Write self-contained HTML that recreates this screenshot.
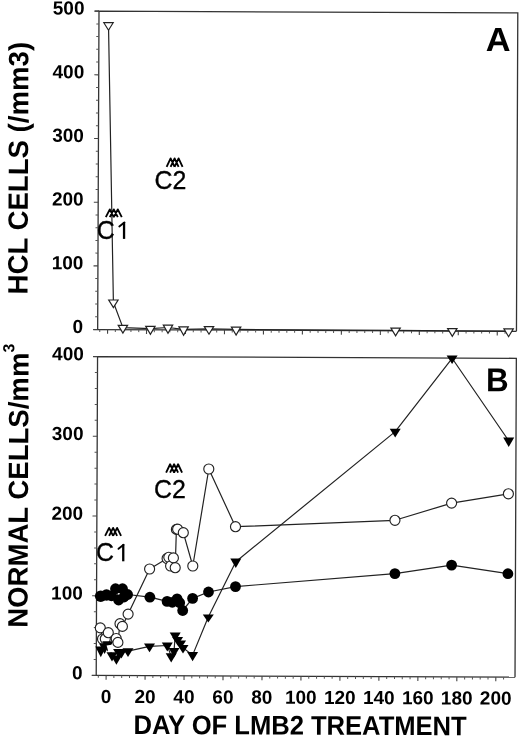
<!DOCTYPE html>
<html><head><meta charset="utf-8"><style>
html,body{margin:0;padding:0;background:#fff;}
svg{display:block;filter:grayscale(1) blur(0.35px);}
text{font-family:"Liberation Sans", sans-serif;fill:#000;}
</style></head><body>
<svg width="520" height="738" viewBox="0 0 520 738">
<rect width="520" height="738" fill="#fff"/>
<g transform="rotate(0.24 300.0 345.0)">
<path d="M97.6,330.4 L97.6,12 L516.4,12 L516.4,330.4" fill="none" stroke="#333" stroke-width="1.3" stroke-linejoin="miter"/>
<line x1="93.2" y1="330.4" x2="516.4" y2="330.4" stroke="#333" stroke-width="1.3"/>
<line x1="93.2" y1="12" x2="97.6" y2="12" stroke="#333" stroke-width="1.3"/>
<path d="M97.6,676.3 L97.6,357.4 L516.4,357.4 L516.4,676.3" fill="none" stroke="#333" stroke-width="1.3" stroke-linejoin="miter"/>
<line x1="93.2" y1="676.3" x2="516.4" y2="676.3" stroke="#333" stroke-width="1.3"/>
<line x1="93.2" y1="357.4" x2="97.6" y2="357.4" stroke="#333" stroke-width="1.3"/>
<line x1="93.2" y1="330.4" x2="97.6" y2="330.4" stroke="#444" stroke-width="1.1"/>
<line x1="95" y1="317.66" x2="97.6" y2="317.66" stroke="#555" stroke-width="1.0"/>
<line x1="95" y1="304.93" x2="97.6" y2="304.93" stroke="#555" stroke-width="1.0"/>
<line x1="95" y1="292.19" x2="97.6" y2="292.19" stroke="#555" stroke-width="1.0"/>
<line x1="95" y1="279.46" x2="97.6" y2="279.46" stroke="#555" stroke-width="1.0"/>
<line x1="93.2" y1="266.72" x2="97.6" y2="266.72" stroke="#444" stroke-width="1.1"/>
<line x1="95" y1="253.98" x2="97.6" y2="253.98" stroke="#555" stroke-width="1.0"/>
<line x1="95" y1="241.25" x2="97.6" y2="241.25" stroke="#555" stroke-width="1.0"/>
<line x1="95" y1="228.51" x2="97.6" y2="228.51" stroke="#555" stroke-width="1.0"/>
<line x1="95" y1="215.78" x2="97.6" y2="215.78" stroke="#555" stroke-width="1.0"/>
<line x1="93.2" y1="203.04" x2="97.6" y2="203.04" stroke="#444" stroke-width="1.1"/>
<line x1="95" y1="190.3" x2="97.6" y2="190.3" stroke="#555" stroke-width="1.0"/>
<line x1="95" y1="177.57" x2="97.6" y2="177.57" stroke="#555" stroke-width="1.0"/>
<line x1="95" y1="164.83" x2="97.6" y2="164.83" stroke="#555" stroke-width="1.0"/>
<line x1="95" y1="152.1" x2="97.6" y2="152.1" stroke="#555" stroke-width="1.0"/>
<line x1="93.2" y1="139.36" x2="97.6" y2="139.36" stroke="#444" stroke-width="1.1"/>
<line x1="95" y1="126.62" x2="97.6" y2="126.62" stroke="#555" stroke-width="1.0"/>
<line x1="95" y1="113.89" x2="97.6" y2="113.89" stroke="#555" stroke-width="1.0"/>
<line x1="95" y1="101.15" x2="97.6" y2="101.15" stroke="#555" stroke-width="1.0"/>
<line x1="95" y1="88.42" x2="97.6" y2="88.42" stroke="#555" stroke-width="1.0"/>
<line x1="93.2" y1="75.68" x2="97.6" y2="75.68" stroke="#444" stroke-width="1.1"/>
<line x1="95" y1="62.94" x2="97.6" y2="62.94" stroke="#555" stroke-width="1.0"/>
<line x1="95" y1="50.21" x2="97.6" y2="50.21" stroke="#555" stroke-width="1.0"/>
<line x1="95" y1="37.47" x2="97.6" y2="37.47" stroke="#555" stroke-width="1.0"/>
<line x1="95" y1="24.74" x2="97.6" y2="24.74" stroke="#555" stroke-width="1.0"/>
<line x1="93.2" y1="12" x2="97.6" y2="12" stroke="#444" stroke-width="1.1"/>
<line x1="93.2" y1="676.3" x2="97.6" y2="676.3" stroke="#444" stroke-width="1.1"/>
<line x1="95" y1="660.35" x2="97.6" y2="660.35" stroke="#555" stroke-width="1.0"/>
<line x1="95" y1="644.41" x2="97.6" y2="644.41" stroke="#555" stroke-width="1.0"/>
<line x1="95" y1="628.46" x2="97.6" y2="628.46" stroke="#555" stroke-width="1.0"/>
<line x1="95" y1="612.52" x2="97.6" y2="612.52" stroke="#555" stroke-width="1.0"/>
<line x1="93.2" y1="596.57" x2="97.6" y2="596.57" stroke="#444" stroke-width="1.1"/>
<line x1="95" y1="580.63" x2="97.6" y2="580.63" stroke="#555" stroke-width="1.0"/>
<line x1="95" y1="564.68" x2="97.6" y2="564.68" stroke="#555" stroke-width="1.0"/>
<line x1="95" y1="548.74" x2="97.6" y2="548.74" stroke="#555" stroke-width="1.0"/>
<line x1="95" y1="532.79" x2="97.6" y2="532.79" stroke="#555" stroke-width="1.0"/>
<line x1="93.2" y1="516.85" x2="97.6" y2="516.85" stroke="#444" stroke-width="1.1"/>
<line x1="95" y1="500.9" x2="97.6" y2="500.9" stroke="#555" stroke-width="1.0"/>
<line x1="95" y1="484.96" x2="97.6" y2="484.96" stroke="#555" stroke-width="1.0"/>
<line x1="95" y1="469.01" x2="97.6" y2="469.01" stroke="#555" stroke-width="1.0"/>
<line x1="95" y1="453.07" x2="97.6" y2="453.07" stroke="#555" stroke-width="1.0"/>
<line x1="93.2" y1="437.12" x2="97.6" y2="437.12" stroke="#444" stroke-width="1.1"/>
<line x1="95" y1="421.18" x2="97.6" y2="421.18" stroke="#555" stroke-width="1.0"/>
<line x1="95" y1="405.24" x2="97.6" y2="405.24" stroke="#555" stroke-width="1.0"/>
<line x1="95" y1="389.29" x2="97.6" y2="389.29" stroke="#555" stroke-width="1.0"/>
<line x1="95" y1="373.34" x2="97.6" y2="373.34" stroke="#555" stroke-width="1.0"/>
<line x1="93.2" y1="357.4" x2="97.6" y2="357.4" stroke="#444" stroke-width="1.1"/>
<line x1="99.71" y1="330.4" x2="99.71" y2="332.8" stroke="#555" stroke-width="1.0"/>
<line x1="107.5" y1="330.4" x2="107.5" y2="334.6" stroke="#444" stroke-width="1.1"/>
<line x1="115.29" y1="330.4" x2="115.29" y2="332.8" stroke="#555" stroke-width="1.0"/>
<line x1="123.09" y1="330.4" x2="123.09" y2="332.8" stroke="#555" stroke-width="1.0"/>
<line x1="130.88" y1="330.4" x2="130.88" y2="332.8" stroke="#555" stroke-width="1.0"/>
<line x1="138.68" y1="330.4" x2="138.68" y2="332.8" stroke="#555" stroke-width="1.0"/>
<line x1="146.47" y1="330.4" x2="146.47" y2="334.6" stroke="#444" stroke-width="1.1"/>
<line x1="154.26" y1="330.4" x2="154.26" y2="332.8" stroke="#555" stroke-width="1.0"/>
<line x1="162.06" y1="330.4" x2="162.06" y2="332.8" stroke="#555" stroke-width="1.0"/>
<line x1="169.85" y1="330.4" x2="169.85" y2="332.8" stroke="#555" stroke-width="1.0"/>
<line x1="177.65" y1="330.4" x2="177.65" y2="332.8" stroke="#555" stroke-width="1.0"/>
<line x1="185.44" y1="330.4" x2="185.44" y2="334.6" stroke="#444" stroke-width="1.1"/>
<line x1="193.23" y1="330.4" x2="193.23" y2="332.8" stroke="#555" stroke-width="1.0"/>
<line x1="201.03" y1="330.4" x2="201.03" y2="332.8" stroke="#555" stroke-width="1.0"/>
<line x1="208.82" y1="330.4" x2="208.82" y2="332.8" stroke="#555" stroke-width="1.0"/>
<line x1="216.62" y1="330.4" x2="216.62" y2="332.8" stroke="#555" stroke-width="1.0"/>
<line x1="224.41" y1="330.4" x2="224.41" y2="334.6" stroke="#444" stroke-width="1.1"/>
<line x1="232.2" y1="330.4" x2="232.2" y2="332.8" stroke="#555" stroke-width="1.0"/>
<line x1="240" y1="330.4" x2="240" y2="332.8" stroke="#555" stroke-width="1.0"/>
<line x1="247.79" y1="330.4" x2="247.79" y2="332.8" stroke="#555" stroke-width="1.0"/>
<line x1="255.59" y1="330.4" x2="255.59" y2="332.8" stroke="#555" stroke-width="1.0"/>
<line x1="263.38" y1="330.4" x2="263.38" y2="334.6" stroke="#444" stroke-width="1.1"/>
<line x1="271.17" y1="330.4" x2="271.17" y2="332.8" stroke="#555" stroke-width="1.0"/>
<line x1="278.97" y1="330.4" x2="278.97" y2="332.8" stroke="#555" stroke-width="1.0"/>
<line x1="286.76" y1="330.4" x2="286.76" y2="332.8" stroke="#555" stroke-width="1.0"/>
<line x1="294.56" y1="330.4" x2="294.56" y2="332.8" stroke="#555" stroke-width="1.0"/>
<line x1="302.35" y1="330.4" x2="302.35" y2="334.6" stroke="#444" stroke-width="1.1"/>
<line x1="310.14" y1="330.4" x2="310.14" y2="332.8" stroke="#555" stroke-width="1.0"/>
<line x1="317.94" y1="330.4" x2="317.94" y2="332.8" stroke="#555" stroke-width="1.0"/>
<line x1="325.73" y1="330.4" x2="325.73" y2="332.8" stroke="#555" stroke-width="1.0"/>
<line x1="333.53" y1="330.4" x2="333.53" y2="332.8" stroke="#555" stroke-width="1.0"/>
<line x1="341.32" y1="330.4" x2="341.32" y2="334.6" stroke="#444" stroke-width="1.1"/>
<line x1="349.11" y1="330.4" x2="349.11" y2="332.8" stroke="#555" stroke-width="1.0"/>
<line x1="356.91" y1="330.4" x2="356.91" y2="332.8" stroke="#555" stroke-width="1.0"/>
<line x1="364.7" y1="330.4" x2="364.7" y2="332.8" stroke="#555" stroke-width="1.0"/>
<line x1="372.5" y1="330.4" x2="372.5" y2="332.8" stroke="#555" stroke-width="1.0"/>
<line x1="380.29" y1="330.4" x2="380.29" y2="334.6" stroke="#444" stroke-width="1.1"/>
<line x1="388.08" y1="330.4" x2="388.08" y2="332.8" stroke="#555" stroke-width="1.0"/>
<line x1="395.88" y1="330.4" x2="395.88" y2="332.8" stroke="#555" stroke-width="1.0"/>
<line x1="403.67" y1="330.4" x2="403.67" y2="332.8" stroke="#555" stroke-width="1.0"/>
<line x1="411.47" y1="330.4" x2="411.47" y2="332.8" stroke="#555" stroke-width="1.0"/>
<line x1="419.26" y1="330.4" x2="419.26" y2="334.6" stroke="#444" stroke-width="1.1"/>
<line x1="427.05" y1="330.4" x2="427.05" y2="332.8" stroke="#555" stroke-width="1.0"/>
<line x1="434.85" y1="330.4" x2="434.85" y2="332.8" stroke="#555" stroke-width="1.0"/>
<line x1="442.64" y1="330.4" x2="442.64" y2="332.8" stroke="#555" stroke-width="1.0"/>
<line x1="450.44" y1="330.4" x2="450.44" y2="332.8" stroke="#555" stroke-width="1.0"/>
<line x1="458.23" y1="330.4" x2="458.23" y2="334.6" stroke="#444" stroke-width="1.1"/>
<line x1="466.02" y1="330.4" x2="466.02" y2="332.8" stroke="#555" stroke-width="1.0"/>
<line x1="473.82" y1="330.4" x2="473.82" y2="332.8" stroke="#555" stroke-width="1.0"/>
<line x1="481.61" y1="330.4" x2="481.61" y2="332.8" stroke="#555" stroke-width="1.0"/>
<line x1="489.41" y1="330.4" x2="489.41" y2="332.8" stroke="#555" stroke-width="1.0"/>
<line x1="497.2" y1="330.4" x2="497.2" y2="334.6" stroke="#444" stroke-width="1.1"/>
<line x1="504.99" y1="330.4" x2="504.99" y2="332.8" stroke="#555" stroke-width="1.0"/>
<line x1="99.71" y1="676.3" x2="99.71" y2="678.7" stroke="#555" stroke-width="1.0"/>
<line x1="107.5" y1="676.3" x2="107.5" y2="680.5" stroke="#444" stroke-width="1.1"/>
<line x1="115.29" y1="676.3" x2="115.29" y2="678.7" stroke="#555" stroke-width="1.0"/>
<line x1="123.09" y1="676.3" x2="123.09" y2="678.7" stroke="#555" stroke-width="1.0"/>
<line x1="130.88" y1="676.3" x2="130.88" y2="678.7" stroke="#555" stroke-width="1.0"/>
<line x1="138.68" y1="676.3" x2="138.68" y2="678.7" stroke="#555" stroke-width="1.0"/>
<line x1="146.47" y1="676.3" x2="146.47" y2="680.5" stroke="#444" stroke-width="1.1"/>
<line x1="154.26" y1="676.3" x2="154.26" y2="678.7" stroke="#555" stroke-width="1.0"/>
<line x1="162.06" y1="676.3" x2="162.06" y2="678.7" stroke="#555" stroke-width="1.0"/>
<line x1="169.85" y1="676.3" x2="169.85" y2="678.7" stroke="#555" stroke-width="1.0"/>
<line x1="177.65" y1="676.3" x2="177.65" y2="678.7" stroke="#555" stroke-width="1.0"/>
<line x1="185.44" y1="676.3" x2="185.44" y2="680.5" stroke="#444" stroke-width="1.1"/>
<line x1="193.23" y1="676.3" x2="193.23" y2="678.7" stroke="#555" stroke-width="1.0"/>
<line x1="201.03" y1="676.3" x2="201.03" y2="678.7" stroke="#555" stroke-width="1.0"/>
<line x1="208.82" y1="676.3" x2="208.82" y2="678.7" stroke="#555" stroke-width="1.0"/>
<line x1="216.62" y1="676.3" x2="216.62" y2="678.7" stroke="#555" stroke-width="1.0"/>
<line x1="224.41" y1="676.3" x2="224.41" y2="680.5" stroke="#444" stroke-width="1.1"/>
<line x1="232.2" y1="676.3" x2="232.2" y2="678.7" stroke="#555" stroke-width="1.0"/>
<line x1="240" y1="676.3" x2="240" y2="678.7" stroke="#555" stroke-width="1.0"/>
<line x1="247.79" y1="676.3" x2="247.79" y2="678.7" stroke="#555" stroke-width="1.0"/>
<line x1="255.59" y1="676.3" x2="255.59" y2="678.7" stroke="#555" stroke-width="1.0"/>
<line x1="263.38" y1="676.3" x2="263.38" y2="680.5" stroke="#444" stroke-width="1.1"/>
<line x1="271.17" y1="676.3" x2="271.17" y2="678.7" stroke="#555" stroke-width="1.0"/>
<line x1="278.97" y1="676.3" x2="278.97" y2="678.7" stroke="#555" stroke-width="1.0"/>
<line x1="286.76" y1="676.3" x2="286.76" y2="678.7" stroke="#555" stroke-width="1.0"/>
<line x1="294.56" y1="676.3" x2="294.56" y2="678.7" stroke="#555" stroke-width="1.0"/>
<line x1="302.35" y1="676.3" x2="302.35" y2="680.5" stroke="#444" stroke-width="1.1"/>
<line x1="310.14" y1="676.3" x2="310.14" y2="678.7" stroke="#555" stroke-width="1.0"/>
<line x1="317.94" y1="676.3" x2="317.94" y2="678.7" stroke="#555" stroke-width="1.0"/>
<line x1="325.73" y1="676.3" x2="325.73" y2="678.7" stroke="#555" stroke-width="1.0"/>
<line x1="333.53" y1="676.3" x2="333.53" y2="678.7" stroke="#555" stroke-width="1.0"/>
<line x1="341.32" y1="676.3" x2="341.32" y2="680.5" stroke="#444" stroke-width="1.1"/>
<line x1="349.11" y1="676.3" x2="349.11" y2="678.7" stroke="#555" stroke-width="1.0"/>
<line x1="356.91" y1="676.3" x2="356.91" y2="678.7" stroke="#555" stroke-width="1.0"/>
<line x1="364.7" y1="676.3" x2="364.7" y2="678.7" stroke="#555" stroke-width="1.0"/>
<line x1="372.5" y1="676.3" x2="372.5" y2="678.7" stroke="#555" stroke-width="1.0"/>
<line x1="380.29" y1="676.3" x2="380.29" y2="680.5" stroke="#444" stroke-width="1.1"/>
<line x1="388.08" y1="676.3" x2="388.08" y2="678.7" stroke="#555" stroke-width="1.0"/>
<line x1="395.88" y1="676.3" x2="395.88" y2="678.7" stroke="#555" stroke-width="1.0"/>
<line x1="403.67" y1="676.3" x2="403.67" y2="678.7" stroke="#555" stroke-width="1.0"/>
<line x1="411.47" y1="676.3" x2="411.47" y2="678.7" stroke="#555" stroke-width="1.0"/>
<line x1="419.26" y1="676.3" x2="419.26" y2="680.5" stroke="#444" stroke-width="1.1"/>
<line x1="427.05" y1="676.3" x2="427.05" y2="678.7" stroke="#555" stroke-width="1.0"/>
<line x1="434.85" y1="676.3" x2="434.85" y2="678.7" stroke="#555" stroke-width="1.0"/>
<line x1="442.64" y1="676.3" x2="442.64" y2="678.7" stroke="#555" stroke-width="1.0"/>
<line x1="450.44" y1="676.3" x2="450.44" y2="678.7" stroke="#555" stroke-width="1.0"/>
<line x1="458.23" y1="676.3" x2="458.23" y2="680.5" stroke="#444" stroke-width="1.1"/>
<line x1="466.02" y1="676.3" x2="466.02" y2="678.7" stroke="#555" stroke-width="1.0"/>
<line x1="473.82" y1="676.3" x2="473.82" y2="678.7" stroke="#555" stroke-width="1.0"/>
<line x1="481.61" y1="676.3" x2="481.61" y2="678.7" stroke="#555" stroke-width="1.0"/>
<line x1="489.41" y1="676.3" x2="489.41" y2="678.7" stroke="#555" stroke-width="1.0"/>
<line x1="497.2" y1="676.3" x2="497.2" y2="680.5" stroke="#444" stroke-width="1.1"/>
<line x1="504.99" y1="676.3" x2="504.99" y2="678.7" stroke="#555" stroke-width="1.0"/>
<text x="83.1" y="333.9" font-size="19" font-weight="bold" text-anchor="end" >0</text>
<text x="83.1" y="270.22" font-size="19" font-weight="bold" text-anchor="end" >100</text>
<text x="83.1" y="206.54" font-size="19" font-weight="bold" text-anchor="end" >200</text>
<text x="83.1" y="142.86" font-size="19" font-weight="bold" text-anchor="end" >300</text>
<text x="83.1" y="79.18" font-size="19" font-weight="bold" text-anchor="end" >400</text>
<text x="83.1" y="15.5" font-size="19" font-weight="bold" text-anchor="end" >500</text>
<text x="83.9" y="680.2" font-size="19" font-weight="bold" text-anchor="end" >0</text>
<text x="83.9" y="600.47" font-size="19" font-weight="bold" text-anchor="end" >100</text>
<text x="83.9" y="520.75" font-size="19" font-weight="bold" text-anchor="end" >200</text>
<text x="83.9" y="441.02" font-size="19" font-weight="bold" text-anchor="end" >300</text>
<text x="83.9" y="361.3" font-size="19" font-weight="bold" text-anchor="end" >400</text>
<text x="107.5" y="703.8" font-size="19" font-weight="bold" text-anchor="middle" >0</text>
<text x="146.47" y="703.8" font-size="19" font-weight="bold" text-anchor="middle" >20</text>
<text x="185.44" y="703.8" font-size="19" font-weight="bold" text-anchor="middle" >40</text>
<text x="224.41" y="703.8" font-size="19" font-weight="bold" text-anchor="middle" >60</text>
<text x="263.38" y="703.8" font-size="19" font-weight="bold" text-anchor="middle" >80</text>
<text x="302.35" y="703.8" font-size="19" font-weight="bold" text-anchor="middle" >100</text>
<text x="341.32" y="703.8" font-size="19" font-weight="bold" text-anchor="middle" >120</text>
<text x="380.29" y="703.8" font-size="19" font-weight="bold" text-anchor="middle" >140</text>
<text x="419.26" y="703.8" font-size="19" font-weight="bold" text-anchor="middle" >160</text>
<text x="458.23" y="703.8" font-size="19" font-weight="bold" text-anchor="middle" >180</text>
<text x="497.2" y="703.8" font-size="19" font-weight="bold" text-anchor="middle" >200</text>
<text transform="translate(484.64 50.2) scale(1.025 1)" font-size="33.5" font-weight="bold">A</text>
<text transform="translate(486.1 390.4) scale(0.95 1)" font-size="33" font-weight="bold">B</text>
<text transform="translate(135.09 734.6) scale(0.947 1)" font-size="27" font-weight="bold">DAY OF LMB2 TREATMENT</text>
<text transform="translate(27.2 295.55) rotate(-90) scale(0.986 1)" font-size="28" font-weight="bold">HCL CELLS (/mm3)</text>
<text transform="translate(28.6 628.95) rotate(-90) scale(0.985 1)" font-size="28" font-weight="bold">NORMAL CELLS/mm<tspan font-size="16" dy="-14.2">3</tspan></text>
</g>
<polyline points="108.5,24.87 113.4,302.2 122.9,327.6 150.4,328.67 168,327.5 183.6,329.37 209,328.8 236.1,329.4 395.6,330.37 452.3,330.87 508.6,331.17" fill="none" stroke="#222" stroke-width="1.2" stroke-linejoin="round"/>
<path d="M103.82,22.7 L113.18,22.7 L108.5,30.2 Z" fill="#fff" stroke="#222" stroke-width="1.2" stroke-linejoin="miter"/>
<path d="M108.72,300 L118.08,300 L113.4,307.6 Z" fill="#fff" stroke="#222" stroke-width="1.2" stroke-linejoin="miter"/>
<path d="M118.22,325.4 L127.58,325.4 L122.9,333 Z" fill="#fff" stroke="#222" stroke-width="1.2" stroke-linejoin="miter"/>
<path d="M145.72,326.3 L155.08,326.3 L150.4,334.4 Z" fill="#fff" stroke="#222" stroke-width="1.2" stroke-linejoin="miter"/>
<path d="M163.32,325.1 L172.68,325.1 L168,333.3 Z" fill="#fff" stroke="#222" stroke-width="1.2" stroke-linejoin="miter"/>
<path d="M178.92,326.9 L188.28,326.9 L183.6,335.3 Z" fill="#fff" stroke="#222" stroke-width="1.2" stroke-linejoin="miter"/>
<path d="M204.32,326.6 L213.68,326.6 L209,334.2 Z" fill="#fff" stroke="#222" stroke-width="1.2" stroke-linejoin="miter"/>
<path d="M231.42,327.1 L240.78,327.1 L236.1,335 Z" fill="#fff" stroke="#222" stroke-width="1.2" stroke-linejoin="miter"/>
<path d="M390.92,328.1 L400.28,328.1 L395.6,335.9 Z" fill="#fff" stroke="#222" stroke-width="1.2" stroke-linejoin="miter"/>
<path d="M447.62,328.6 L456.98,328.6 L452.3,336.4 Z" fill="#fff" stroke="#222" stroke-width="1.2" stroke-linejoin="miter"/>
<path d="M503.92,328.9 L513.28,328.9 L508.6,336.7 Z" fill="#fff" stroke="#222" stroke-width="1.2" stroke-linejoin="miter"/>
<g transform="rotate(0.24 300.0 345.0)">
</g>
<polyline points="100.8,650.13 104.6,647 107.8,644.7 112,655.3 116.4,658.5 118.6,652.07 121.4,652.27 128,651.13 149.5,646.33 167.3,645.5 171.2,656.33 174,651.1 175.2,635.5 177.6,639.77 180.6,643.33 183,647.83 192.6,655.13 208.3,617.1 235.8,561.7 395.2,431.6 452.1,358.27 508.7,440.77" fill="none" stroke="#222" stroke-width="1.2" stroke-linejoin="round"/>
<polyline points="100.7,596.2 106.5,595 111.5,595.8 115.5,588.7 118.6,600 122.5,588.7 124,597 127.6,594.5 149.9,597.2 167.1,601.4 172.3,602.3 177.1,598.8 179.7,602.7 182.7,610.5 192.6,598.4 208.5,592 235.5,586.6 394.9,573.6 451.6,565.1 507.9,573.7" fill="none" stroke="#222" stroke-width="1.2" stroke-linejoin="round"/>
<polyline points="100.3,627.9 102.5,639 105.3,638.8 108.3,632.7 116.2,638.5 117.9,642.4 120,623.7 122.4,626.4 128.1,614.1 149.6,569 167.1,558.5 168.8,557.3 170.6,566 173.4,557.9 175.2,567.7 176.4,529.4 177.6,529.2 183.3,532.7 192.8,566 208.8,469 235.5,526.7 394.95,520.3 451.6,503.1 508.4,493.8" fill="none" stroke="#222" stroke-width="1.2" stroke-linejoin="round"/>
<circle cx="102.5" cy="639" r="5.02" fill="#fff" stroke="#222" stroke-width="1.15"/>
<circle cx="105.3" cy="638.8" r="5.02" fill="#fff" stroke="#222" stroke-width="1.15"/>
<path d="M95.3,646.6 L106.3,646.6 L100.8,657.2 Z" fill="#000"/>
<path d="M99.1,643.5 L110.1,643.5 L104.6,654 Z" fill="#000"/>
<path d="M102.3,641.3 L113.3,641.3 L107.8,651.5 Z" fill="#000"/>
<path d="M106.6,645.6 L113.2,644.6 L115.6,648.4 L112.8,651.4 L109.6,652.8 L108.4,651.8 Z" fill="#fff"/>
<path d="M106.5,652.2 L117.5,652.2 L112,661.5 Z" fill="#000"/>
<path d="M110.9,655.4 L121.9,655.4 L116.4,664.7 Z" fill="#000"/>
<path d="M113.1,649 L124.1,649 L118.6,658.2 Z" fill="#000"/>
<path d="M115.9,649.2 L126.9,649.2 L121.4,658.4 Z" fill="#000"/>
<path d="M122.5,648.2 L133.5,648.2 L128,657 Z" fill="#000"/>
<path d="M144,643.4 L155,643.4 L149.5,652.2 Z" fill="#000"/>
<path d="M161.8,642.5 L172.8,642.5 L167.3,651.5 Z" fill="#000"/>
<path d="M165.7,653.2 L176.7,653.2 L171.2,662.6 Z" fill="#000"/>
<path d="M168.5,648 L179.5,648 L174,657.3 Z" fill="#000"/>
<path d="M169.7,632.5 L180.7,632.5 L175.2,641.5 Z" fill="#000"/>
<path d="M172.1,636.9 L183.1,636.9 L177.6,645.5 Z" fill="#000"/>
<path d="M175.1,640.5 L186.1,640.5 L180.6,649 Z" fill="#000"/>
<path d="M177.5,645 L188.5,645 L183,653.5 Z" fill="#000"/>
<path d="M187.1,652.1 L198.1,652.1 L192.6,661.2 Z" fill="#000"/>
<path d="M202.8,614.4 L213.8,614.4 L208.3,622.5 Z" fill="#000"/>
<path d="M230.3,558.6 L241.3,558.6 L235.8,567.9 Z" fill="#000"/>
<path d="M389.7,428.7 L400.7,428.7 L395.2,437.4 Z" fill="#000"/>
<path d="M446.6,355.4 L457.6,355.4 L452.1,364 Z" fill="#000"/>
<path d="M503.2,437.6 L514.2,437.6 L508.7,447.1 Z" fill="#000"/>
<circle cx="100.7" cy="596.2" r="5.8" fill="#000"/>
<circle cx="106.5" cy="595" r="5.7" fill="#000"/>
<circle cx="111.5" cy="595.8" r="5.4" fill="#000"/>
<circle cx="115.5" cy="588.7" r="5.4" fill="#000"/>
<circle cx="118.6" cy="600" r="5.4" fill="#000"/>
<circle cx="122.5" cy="588.7" r="5.4" fill="#000"/>
<circle cx="124" cy="597" r="5.4" fill="#000"/>
<circle cx="127.6" cy="594.5" r="5.4" fill="#000"/>
<circle cx="149.9" cy="597.2" r="5.4" fill="#000"/>
<circle cx="167.1" cy="601.4" r="5.4" fill="#000"/>
<circle cx="172.3" cy="602.3" r="5.4" fill="#000"/>
<circle cx="177.1" cy="598.8" r="5.4" fill="#000"/>
<circle cx="179.7" cy="602.7" r="5.4" fill="#000"/>
<circle cx="182.7" cy="610.5" r="5.4" fill="#000"/>
<circle cx="192.6" cy="598.4" r="5.4" fill="#000"/>
<circle cx="208.5" cy="592" r="5.4" fill="#000"/>
<circle cx="235.5" cy="586.6" r="5.4" fill="#000"/>
<circle cx="394.9" cy="573.6" r="5.4" fill="#000"/>
<circle cx="451.6" cy="565.1" r="5.4" fill="#000"/>
<circle cx="507.9" cy="573.7" r="5.4" fill="#000"/>
<circle cx="100.3" cy="627.9" r="5.02" fill="#fff" stroke="#222" stroke-width="1.15"/>
<circle cx="108.3" cy="632.7" r="5.02" fill="#fff" stroke="#222" stroke-width="1.15"/>
<circle cx="116.2" cy="638.5" r="5.02" fill="#fff" stroke="#222" stroke-width="1.15"/>
<circle cx="117.9" cy="642.4" r="5.02" fill="#fff" stroke="#222" stroke-width="1.15"/>
<circle cx="120" cy="623.7" r="5.02" fill="#fff" stroke="#222" stroke-width="1.15"/>
<circle cx="122.4" cy="626.4" r="5.02" fill="#fff" stroke="#222" stroke-width="1.15"/>
<circle cx="128.1" cy="614.1" r="5.02" fill="#fff" stroke="#222" stroke-width="1.15"/>
<circle cx="149.6" cy="569" r="5.02" fill="#fff" stroke="#222" stroke-width="1.15"/>
<circle cx="167.1" cy="558.5" r="5.02" fill="#fff" stroke="#222" stroke-width="1.15"/>
<circle cx="168.8" cy="557.3" r="5.02" fill="#fff" stroke="#222" stroke-width="1.15"/>
<circle cx="170.6" cy="566" r="5.02" fill="#fff" stroke="#222" stroke-width="1.15"/>
<circle cx="173.4" cy="557.9" r="5.02" fill="#fff" stroke="#222" stroke-width="1.15"/>
<circle cx="175.2" cy="567.7" r="5.02" fill="#fff" stroke="#222" stroke-width="1.15"/>
<circle cx="176.4" cy="529.4" r="5.02" fill="#fff" stroke="#222" stroke-width="1.15"/>
<circle cx="177.6" cy="529.2" r="5.02" fill="#fff" stroke="#222" stroke-width="1.15"/>
<circle cx="183.3" cy="532.7" r="5.02" fill="#fff" stroke="#222" stroke-width="1.15"/>
<circle cx="192.8" cy="566" r="5.02" fill="#fff" stroke="#222" stroke-width="1.15"/>
<circle cx="208.8" cy="469" r="5.02" fill="#fff" stroke="#222" stroke-width="1.15"/>
<circle cx="235.5" cy="526.7" r="5.02" fill="#fff" stroke="#222" stroke-width="1.15"/>
<circle cx="394.95" cy="520.3" r="5.02" fill="#fff" stroke="#222" stroke-width="1.15"/>
<circle cx="451.6" cy="503.1" r="5.02" fill="#fff" stroke="#222" stroke-width="1.15"/>
<circle cx="508.4" cy="493.8" r="5.02" fill="#fff" stroke="#222" stroke-width="1.15"/>
<path d="M105.83,217.15 L109.81,209.43 L113.8,217.15 M109.81,217.15 L113.8,209.43 L117.79,217.15 M113.8,217.15 L117.79,209.43 L121.77,217.15" fill="none" stroke="#000" stroke-width="1.85" stroke-linejoin="round" stroke-linecap="butt"/>
<path d="M166.62,166.85 L170.61,158.43 L174.6,166.85 M170.61,166.85 L174.6,158.43 L178.59,166.85 M174.6,166.85 L178.59,158.43 L182.57,166.85" fill="none" stroke="#000" stroke-width="1.85" stroke-linejoin="round" stroke-linecap="butt"/>
<path d="M105.12,535.85 L109.11,527.92 L113.1,535.85 M109.11,535.85 L113.1,527.92 L117.09,535.85 M113.1,535.85 L117.09,527.92 L121.07,535.85" fill="none" stroke="#000" stroke-width="1.85" stroke-linejoin="round" stroke-linecap="butt"/>
<path d="M166.12,472.65 L170.11,464.23 L174.1,472.65 M170.11,472.65 L174.1,464.23 L178.09,472.65 M174.1,472.65 L178.09,464.23 L182.07,472.65" fill="none" stroke="#000" stroke-width="1.85" stroke-linejoin="round" stroke-linecap="butt"/>
<text transform="translate(96.73 238.94) scale(0.965 1)" font-size="25.8" font-weight="normal" stroke="#000" stroke-width="0.35">C</text>
<path d="M124.05,238.9 L124.05,222" stroke="#000" stroke-width="2.3" fill="none"/>
<path d="M124.35,222.4 L119.3,226.4" stroke="#000" stroke-width="1.9" stroke-linecap="round" fill="none"/>
<text transform="translate(154.53 188.74) scale(0.965 1)" font-size="25.8" font-weight="normal" stroke="#000" stroke-width="0.35">C2</text>
<text transform="translate(95.93 561.34) scale(0.965 1)" font-size="25.8" font-weight="normal" stroke="#000" stroke-width="0.35">C</text>
<path d="M123.25,561.3 L123.25,544.4" stroke="#000" stroke-width="2.3" fill="none"/>
<path d="M123.55,544.8 L118.5,548.8" stroke="#000" stroke-width="1.9" stroke-linecap="round" fill="none"/>
<text transform="translate(154.03 497.84) scale(0.965 1)" font-size="25.8" font-weight="normal" stroke="#000" stroke-width="0.35">C2</text>
</svg>
</body></html>
